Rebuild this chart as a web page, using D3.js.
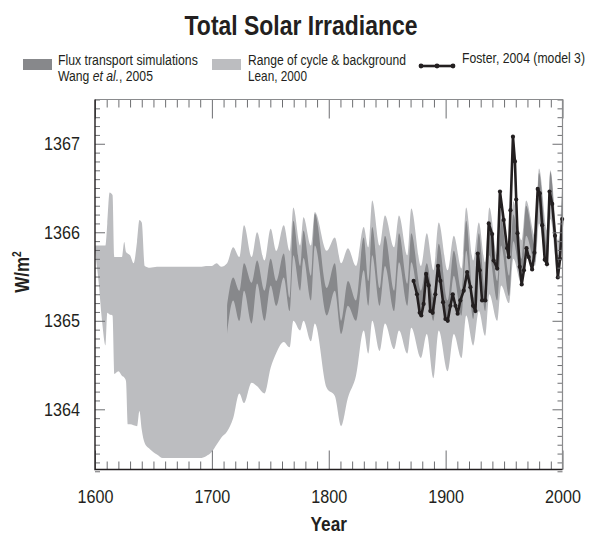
<!DOCTYPE html>
<html><head><meta charset="utf-8">
<script src="https://cdn.jsdelivr.net/npm/d3@7"></script>
<style>
body{margin:0;background:#fff;}
svg text{font-family:"Liberation Sans",Arial,sans-serif;fill:#231f20;}
</style></head><body>
<svg id="c" width="595" height="540"></svg>
<script>
// ---- Data ----
const leanYears = [1600,1603,1606,1609,1610.5,1612.5,1615,1616.5,1620,1623,1625,1626.5,1628,1630,1633,1636,1638,1640,1642.5,1647,1653,1658,1670,1690,1695,1700,1704,1708,
  1713,1718.2,1723.5,1727.5,1734,1738.7,1745,1750.3,1755.2,1761.5,1766.5,1769.7,1775.5,1778.4,1784.7,1788.1,1798.3,1805.2,1810.6,1816.4,1823.3,1829.9,1833.9,1837.2,1843.5,1848.1,1856,1860.1,1867.2,1870.6,1878.9,1883.9,1889.6,1894.1,1901.7,1907,1913.6,1917.6,1923.6,1928.4,1933.8,1937.4,1944.2,1947.5,1954.3,1957.9,1964.9,1968.9,1976.5,1979.9,1986.8,1989.6,1996.4,2000];
const leanHigh = [1365.85,1365.85,1365.85,1365.85,1366.10,1366.45,1366.42,1365.72,1365.72,1365.72,1365.89,1365.78,1365.76,1365.74,1365.65,1365.90,1366.14,1366.11,1365.62,1365.60,1365.61,1365.61,1365.61,1365.61,1365.62,1365.62,1365.65,1365.61,
  1365.65,1365.83,1365.72,1366.08,1365.72,1366.00,1365.68,1366.04,1365.79,1366.08,1365.79,1366.28,1365.85,1366.17,1365.85,1366.23,1365.79,1365.94,1365.65,1365.82,1365.62,1366.06,1365.83,1366.36,1365.85,1366.19,1365.83,1366.19,1365.74,1366.27,1365.62,1365.99,1365.57,1366.11,1365.57,1365.96,1365.59,1366.28,1365.68,1366.11,1365.66,1366.28,1365.74,1366.30,1365.79,1366.35,1365.91,1366.36,1365.96,1366.72,1366.02,1366.70,1365.91,1366.65];
const leanLow = [1365.79,1365.45,1365.00,1364.72,1365.09,1365.07,1365.06,1364.40,1364.43,1364.38,1364.36,1364.32,1363.83,1363.83,1363.82,1363.81,1363.98,1363.77,1363.62,1363.55,1363.49,1363.45,1363.45,1363.45,1363.47,1363.52,1363.60,1363.68,
  1363.75,1363.90,1364.18,1364.07,1364.30,1364.26,1364.18,1364.47,1364.64,1364.76,1364.70,1365.00,1364.89,1365.00,1364.77,1364.97,1364.24,1364.15,1363.81,1364.13,1364.38,1364.89,1364.63,1365.00,1364.66,1364.97,1364.68,1364.89,1364.63,1364.92,1364.58,1364.85,1364.35,1364.89,1364.43,1364.85,1364.58,1365.06,1364.72,1365.11,1364.83,1365.30,1365.00,1365.40,1365.20,1365.70,1365.42,1365.75,1365.62,1366.10,1365.60,1366.15,1365.48,1366.05];

const wangYears = [1713,1718.2,1723.5,1727.5,1734,1738.7,1745,1750.3,1755.2,1761.5,1766.5,1769.7,1775.5,1778.4,1784.7,1788.1,1798.3,1805.2,1810.6,1816.4,1823.3,1829.9,1833.9,1837.2,1843.5,1848.1,1856,1860.1,1867.2,1870.6,1878.9,1883.9,1889.6,1894.1,1901.7,1907,1913.6,1917.6,1923.6,1928.4,1933.8,1937.4,1944.2,1947.5,1954.3,1957.9,1964.9,1968.9,1976.5,1979.9,1986.8,1989.6,1996.4,2000];
const wangHigh = [1365.17,1365.49,1365.34,1365.65,1365.43,1365.68,1365.34,1365.70,1365.45,1365.76,1365.26,1366.13,1365.62,1366.02,1365.51,1366.21,1365.37,1365.65,1365.00,1365.45,1365.23,1365.94,1365.45,1366.06,1365.37,1365.96,1365.34,1365.99,1365.42,1365.99,1365.34,1365.65,1365.26,1365.87,1365.23,1365.79,1365.34,1366.13,1365.26,1365.99,1365.34,1366.08,1365.45,1366.15,1365.51,1366.20,1365.70,1366.30,1365.85,1366.67,1365.85,1366.68,1365.74,1366.56];
const wangLow = [1364.85,1365.23,1365.00,1365.34,1364.97,1365.42,1365.00,1365.40,1365.17,1365.49,1365.11,1365.74,1365.34,1365.71,1365.23,1365.85,1365.06,1365.34,1364.85,1365.17,1365.00,1365.57,1365.17,1365.74,1365.17,1365.62,1365.11,1365.66,1365.17,1365.66,1365.11,1365.40,1365.00,1365.57,1364.98,1365.51,1365.06,1365.79,1365.02,1365.68,1365.11,1365.74,1365.23,1365.85,1365.28,1365.90,1365.45,1365.96,1365.66,1366.36,1365.62,1366.36,1365.51,1366.28];

const fosterYears = [1872.6,1875.5,1877.8,1879.2,1881.2,1883.3,1885.5,1886.9,1888.9,1891.2,1893.5,1895.5,1897.8,1899.8,1901.8,1904.1,1906.1,1908.4,1910.3,1912.6,1915.5,1918.4,1921.2,1923.5,1925.5,1927.5,1929.2,1931.2,1934.0,1936.9,1939.8,1941.1,1944.1,1946.5,1949.7,1952.6,1954.0,1955.5,1957.6,1959.3,1960.4,1961.5,1963.4,1965.1,1967.0,1969.2,1971.1,1974.0,1976.0,1978.8,1980.6,1982.6,1984.8,1986.7,1988.9,1991.2,1993.6,1996.0,1997.9,1999.7];
const fosterValues = [1365.45,1365.30,1365.09,1365.06,1365.19,1365.53,1365.40,1365.11,1365.09,1365.30,1365.62,1365.45,1365.21,1365.02,1365.00,1365.17,1365.30,1365.17,1365.08,1365.23,1365.34,1365.55,1365.38,1365.17,1365.11,1365.76,1365.57,1365.23,1365.23,1366.10,1365.98,1365.68,1365.59,1366.46,1366.14,1365.82,1365.72,1366.25,1367.08,1366.80,1366.37,1365.99,1365.61,1365.41,1365.57,1365.82,1365.72,1365.58,1365.77,1366.49,1366.44,1366.08,1365.69,1365.64,1366.46,1366.32,1365.96,1365.49,1365.70,1366.15];

const xTickValues = [1600,1700,1800,1900,2000];
const yTickValues = [1364,1365,1366,1367];

// ---- Layout ----
const L = 95, R = 562.5, T = 99.5, B = 469.5;
const svg = d3.select("#c");
const x = d3.scaleLinear().domain([1600, 2000]).range([L, R]);
const y = d3.scaleLinear().domain([1363.32, 1367.5]).range([B, T]);

const lean = leanYears.map((d,i)=>({x:d, lo:leanLow[i], hi:leanHigh[i]}));
const wang = wangYears.map((d,i)=>({x:d, lo:wangLow[i], hi:wangHigh[i]}));
const foster = fosterYears.map((d,i)=>({x:d, v:fosterValues[i]}));

const area = d3.area().x(d=>x(d.x)).y0(d=>y(d.lo)).y1(d=>y(d.hi)).curve(d3.curveMonotoneX);
svg.append("path").datum(lean).attr("d", area).attr("fill", "#bcbdc0");
svg.append("path").datum(wang).attr("d", area).attr("fill", "#87888b");

const line = d3.line().x(d=>x(d.x)).y(d=>y(d.v));
svg.append("path").datum(foster).attr("d", line).attr("fill","none")
  .attr("stroke","#231f20").attr("stroke-width",2.6).attr("stroke-linejoin","round");
svg.append("g").selectAll("circle").data(foster).join("circle")
  .attr("cx", d=>x(d.x)).attr("cy", d=>y(d.v)).attr("r", 2.1).attr("fill","#231f20");

// ---- Axes ----
const tickCol = "#6d6e71";
const xMinor = d3.range(1600, 2001, 10).filter(d=>d%100!==0);
const yMinor = d3.range(13633, 13676, 1).map(d=>d/10).filter(d=>Math.round(d*10)%10!==0);
const SX = 0.85;
function styleAxis(g){ g.select(".domain").remove(); g.selectAll("line").attr("stroke", tickCol); }

svg.append("g").attr("transform",`translate(0,${B})`)
  .call(d3.axisBottom(x).tickValues(xMinor).tickSize(-8).tickFormat("")).call(styleAxis);
svg.append("g").attr("transform",`translate(0,${B})`)
  .call(d3.axisBottom(x).tickValues(xTickValues).tickSize(-19).tickPadding(20).tickFormat(d3.format("d")))
  .call(styleAxis)
  .call(g=>g.selectAll("text").attr("font-size",19).attr("font-family",null).attr("fill","#231f20")
     .attr("transform",`scale(${SX},1)`));
svg.append("g").attr("transform",`translate(0,${T})`)
  .call(d3.axisTop(x).tickValues(xMinor).tickSize(-8).tickFormat("")).call(styleAxis);
svg.append("g").attr("transform",`translate(0,${T})`)
  .call(d3.axisTop(x).tickValues(xTickValues).tickSize(-19).tickFormat("")).call(styleAxis);

svg.append("g").attr("transform",`translate(${L},0)`)
  .call(d3.axisLeft(y).tickValues(yMinor).tickSize(-5).tickFormat("")).call(styleAxis);
svg.append("g").attr("transform",`translate(${L},0)`)
  .call(d3.axisLeft(y).tickValues(yTickValues).tickSize(-10).tickPadding(15/SX).tickFormat(d3.format("d")))
  .call(styleAxis)
  .call(g=>g.selectAll("text").attr("font-size",19).attr("font-family",null).attr("fill","#231f20")
     .attr("transform",`scale(${SX},1)`));
svg.append("g").attr("transform",`translate(${R},0)`)
  .call(d3.axisRight(y).tickValues(yMinor).tickSize(-5).tickFormat("")).call(styleAxis);
svg.append("g").attr("transform",`translate(${R},0)`)
  .call(d3.axisRight(y).tickValues(yTickValues).tickSize(-10).tickFormat("")).call(styleAxis);

// frame
svg.append("path").attr("d",`M${L},${T}H${R}V${B}`).attr("fill","none").attr("stroke","#8a8b8d").attr("stroke-width",1.2);
svg.append("path").attr("d",`M${L},${T}V${B}H${R}`).attr("fill","none").attr("stroke","#231f20").attr("stroke-width",1.4);

// ---- condensed text helper: squeeze horizontally to a target width ----
function ctext(parent, px, py, build, opts){
  const g = parent.append("g");
  const t = g.append("text").attr("font-size", opts.size).attr("font-weight", opts.weight || "normal")
    .attr("text-anchor", opts.anchor || "start");
  build(t);
  const w = t.node().getComputedTextLength();
  const s = opts.width ? opts.width / w : (opts.scale || 0.8);
  g.attr("transform", `translate(${px},${py}) ${opts.rotate ? "rotate(" + opts.rotate + ")" : ""} scale(${s},1)`);
  return g;
}

// ---- Titles ----
ctext(svg, 301, 35, t=>t.text("Total Solar Irradiance"), {size:27, weight:"bold", anchor:"middle", width:233});
ctext(svg, (L+R)/2, 531, t=>t.text("Year"), {size:21, weight:"bold", anchor:"middle", scale:0.82});
ctext(svg, 29, 272, t=>{ t.append("tspan").text("W/m"); t.append("tspan").attr("font-size",12).attr("dy",-8).text("2"); },
  {size:20, weight:"bold", anchor:"middle", rotate:-90, scale:0.85});

// ---- Legend ----
const lg = svg.append("g");
const fs = 14.5, b1 = 65, b2 = 81;
lg.append("rect").attr("x",23).attr("y",59).attr("width",29).attr("height",11).attr("fill","#87888b");
ctext(lg, 58, b1, t=>t.text("Flux transport simulations"), {size:fs, width:140});
ctext(lg, 58, b2, t=>{ t.append("tspan").text("Wang "); t.append("tspan").attr("font-style","italic").text("et al."); t.append("tspan").text(", 2005"); }, {size:fs, width:95});
lg.append("rect").attr("x",212).attr("y",59).attr("width",29).attr("height",11).attr("fill","#bcbdc0");
ctext(lg, 248, b1, t=>t.text("Range of cycle & background"), {size:fs, width:158});
ctext(lg, 248, b2, t=>t.text("Lean, 2000"), {size:fs, width:59});
const lx = [421,437,453];
lg.append("path").attr("d",`M${lx[0]},66H${lx[2]}`).attr("stroke","#231f20").attr("stroke-width",2.6);
lg.selectAll("circle").data(lx).join("circle").attr("cx",d=>d).attr("cy",66).attr("r",2.4).attr("fill","#231f20");
ctext(lg, 462, b1 - 2, t=>t.text("Foster, 2004 (model 3)"), {size:fs, width:123});
</script>
</body></html>
